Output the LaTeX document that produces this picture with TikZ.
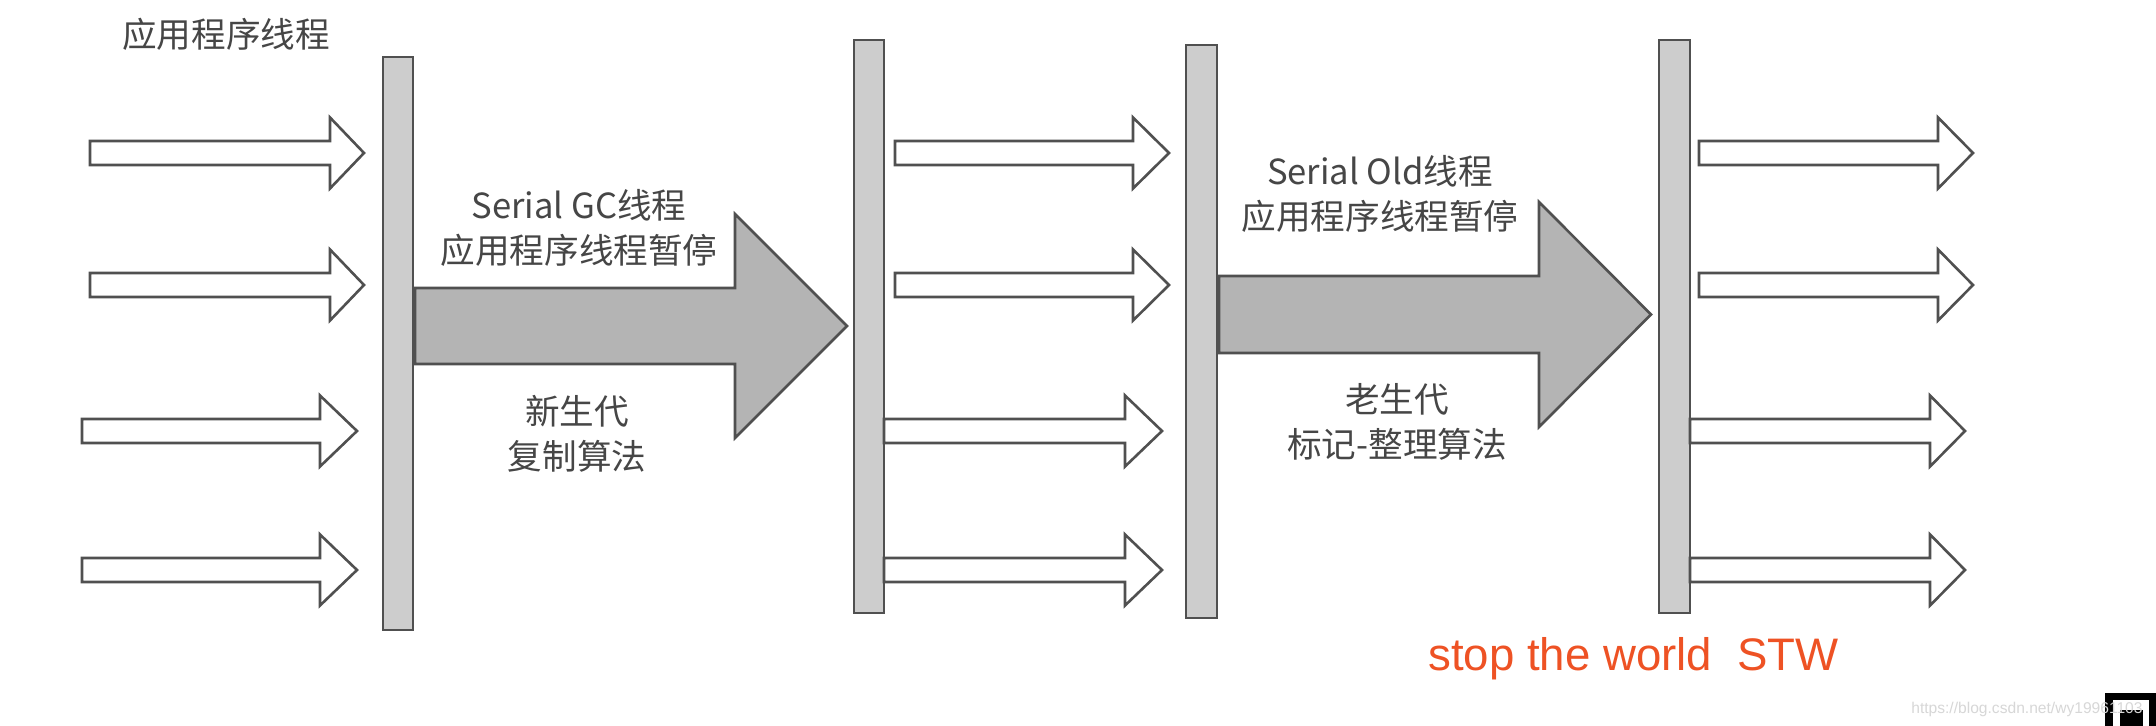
\documentclass[tikz,border=0pt]{standalone}
\usepackage{fontspec}
\newfontfamily\cjkfont{Noto Sans CJK SC}
\newfontfamily\stwfont{Liberation Sans}

\definecolor{edgegray}{RGB}{80,80,80}
\definecolor{bargray}{RGB}{205,205,205}
\definecolor{biggray}{RGB}{180,180,180}
\definecolor{txtgray}{RGB}{70,70,70}
\definecolor{stwred}{RGB}{238,82,36}
\definecolor{markgray}{RGB}{215,215,215}

\tikzset{every picture/.style={line width=1.3pt}}
\tikzset{
  gcbar/.style={draw=edgegray, fill=bargray},
  thinarrow/.style={draw=edgegray, fill=white, line join=miter},
  bigarrow/.style={draw=edgegray, fill=biggray, line join=miter},
  lbl/.style={font=\cjkfont\fontsize{17.3}{22.5}\selectfont, text=txtgray, align=center, inner sep=0pt},
  stwlbl/.style={font=\stwfont\fontsize{22.8}{26}\selectfont, text=stwred, inner sep=0pt},
  marklbl/.style={font=\stwfont\fontsize{7.8}{9}\selectfont, text=markgray, inner sep=0pt}
}

\begin{document}
\begin{tikzpicture}[x=0.5pt,y=0.5pt,yscale=-1,xscale=1]
%set diagram to 2156 x 726
\useasboundingbox (0,0) rectangle (2156,726);
\fill[white] (0,0) rectangle (2156,726);

%Shape: Rectangle (safepoint bars)
\draw[gcbar] (383,57) rectangle (413,630);
\draw[gcbar] (854,40) rectangle (884,613);
\draw[gcbar] (1186,45) rectangle (1217,618);
\draw[gcbar] (1659,40) rectangle (1690,613);

%Shape: Right Arrow (user threads, before)
\draw[thinarrow] (90,141) -- (330,141) -- (330,117.5) -- (364,153) -- (330,188.5) -- (330,165) -- (90,165) -- cycle;
\draw[thinarrow] (90,273) -- (330,273) -- (330,249.5) -- (364,285) -- (330,320.5) -- (330,297) -- (90,297) -- cycle;
\draw[thinarrow] (82,419) -- (320,419) -- (320,395.5) -- (357,431) -- (320,466.5) -- (320,443) -- (82,443) -- cycle;
\draw[thinarrow] (82,558) -- (320,558) -- (320,534.5) -- (357,570) -- (320,605.5) -- (320,582) -- (82,582) -- cycle;

%Shape: Right Arrow (user threads, between)
\draw[thinarrow] (895,141) -- (1133,141) -- (1133,117.5) -- (1169,153) -- (1133,188.5) -- (1133,165) -- (895,165) -- cycle;
\draw[thinarrow] (895,273) -- (1133,273) -- (1133,249.5) -- (1169,285) -- (1133,320.5) -- (1133,297) -- (895,297) -- cycle;
\draw[thinarrow] (884,419) -- (1125,419) -- (1125,395.5) -- (1162,431) -- (1125,466.5) -- (1125,443) -- (884,443) -- cycle;
\draw[thinarrow] (884,558) -- (1125,558) -- (1125,534.5) -- (1162,570) -- (1125,605.5) -- (1125,582) -- (884,582) -- cycle;

%Shape: Right Arrow (user threads, after)
\draw[thinarrow] (1699,141) -- (1938,141) -- (1938,117.5) -- (1973,153) -- (1938,188.5) -- (1938,165) -- (1699,165) -- cycle;
\draw[thinarrow] (1699,273) -- (1938,273) -- (1938,249.5) -- (1973,285) -- (1938,320.5) -- (1938,297) -- (1699,297) -- cycle;
\draw[thinarrow] (1690,419) -- (1930,419) -- (1930,395.5) -- (1965,431) -- (1930,466.5) -- (1930,443) -- (1690,443) -- cycle;
\draw[thinarrow] (1690,558) -- (1930,558) -- (1930,534.5) -- (1965,570) -- (1930,605.5) -- (1930,582) -- (1690,582) -- cycle;

%Shape: Right Arrow (GC threads)
\draw[bigarrow] (415,288) -- (735,288) -- (735,214) -- (847,326) -- (735,438) -- (735,364) -- (415,364) -- cycle;
\draw[bigarrow] (1219,276) -- (1539,276) -- (1539,202) -- (1651,314.5) -- (1539,427) -- (1539,353) -- (1219,353) -- cycle;

% Text Node
\node[lbl] (appthr) at (226,34) {应用程序线程};
% Text Node
\node[lbl] (gcthr) at (579,227.5) {Serial GC线程\\应用程序线程暂停};
% Text Node
\node[lbl] (gcalg) at (577,433.5) {新生代\\复制算法};
% Text Node
\node[lbl] (oldthr) at (1380,194) {Serial Old线程\\应用程序线程暂停};
% Text Node
\node[lbl] (oldalg) at (1397,421.5) {老生代\\标记-整理算法};
% Text Node
\node[stwlbl, anchor=base west] (stw) at (1427,670) {stop the world\ \ STW};

%Shape: Square (corner icon)
\fill[black] (2105,693) rectangle (2156,726);
\fill[white] (2113,700) rectangle (2149,726);
\fill[black] (2120,710) rectangle (2143,726);
% Text Node
\node[marklbl, anchor=base west] (mark) at (1910,713) {https://blog.csdn.net/wy19961103};

\end{tikzpicture}
\end{document}
